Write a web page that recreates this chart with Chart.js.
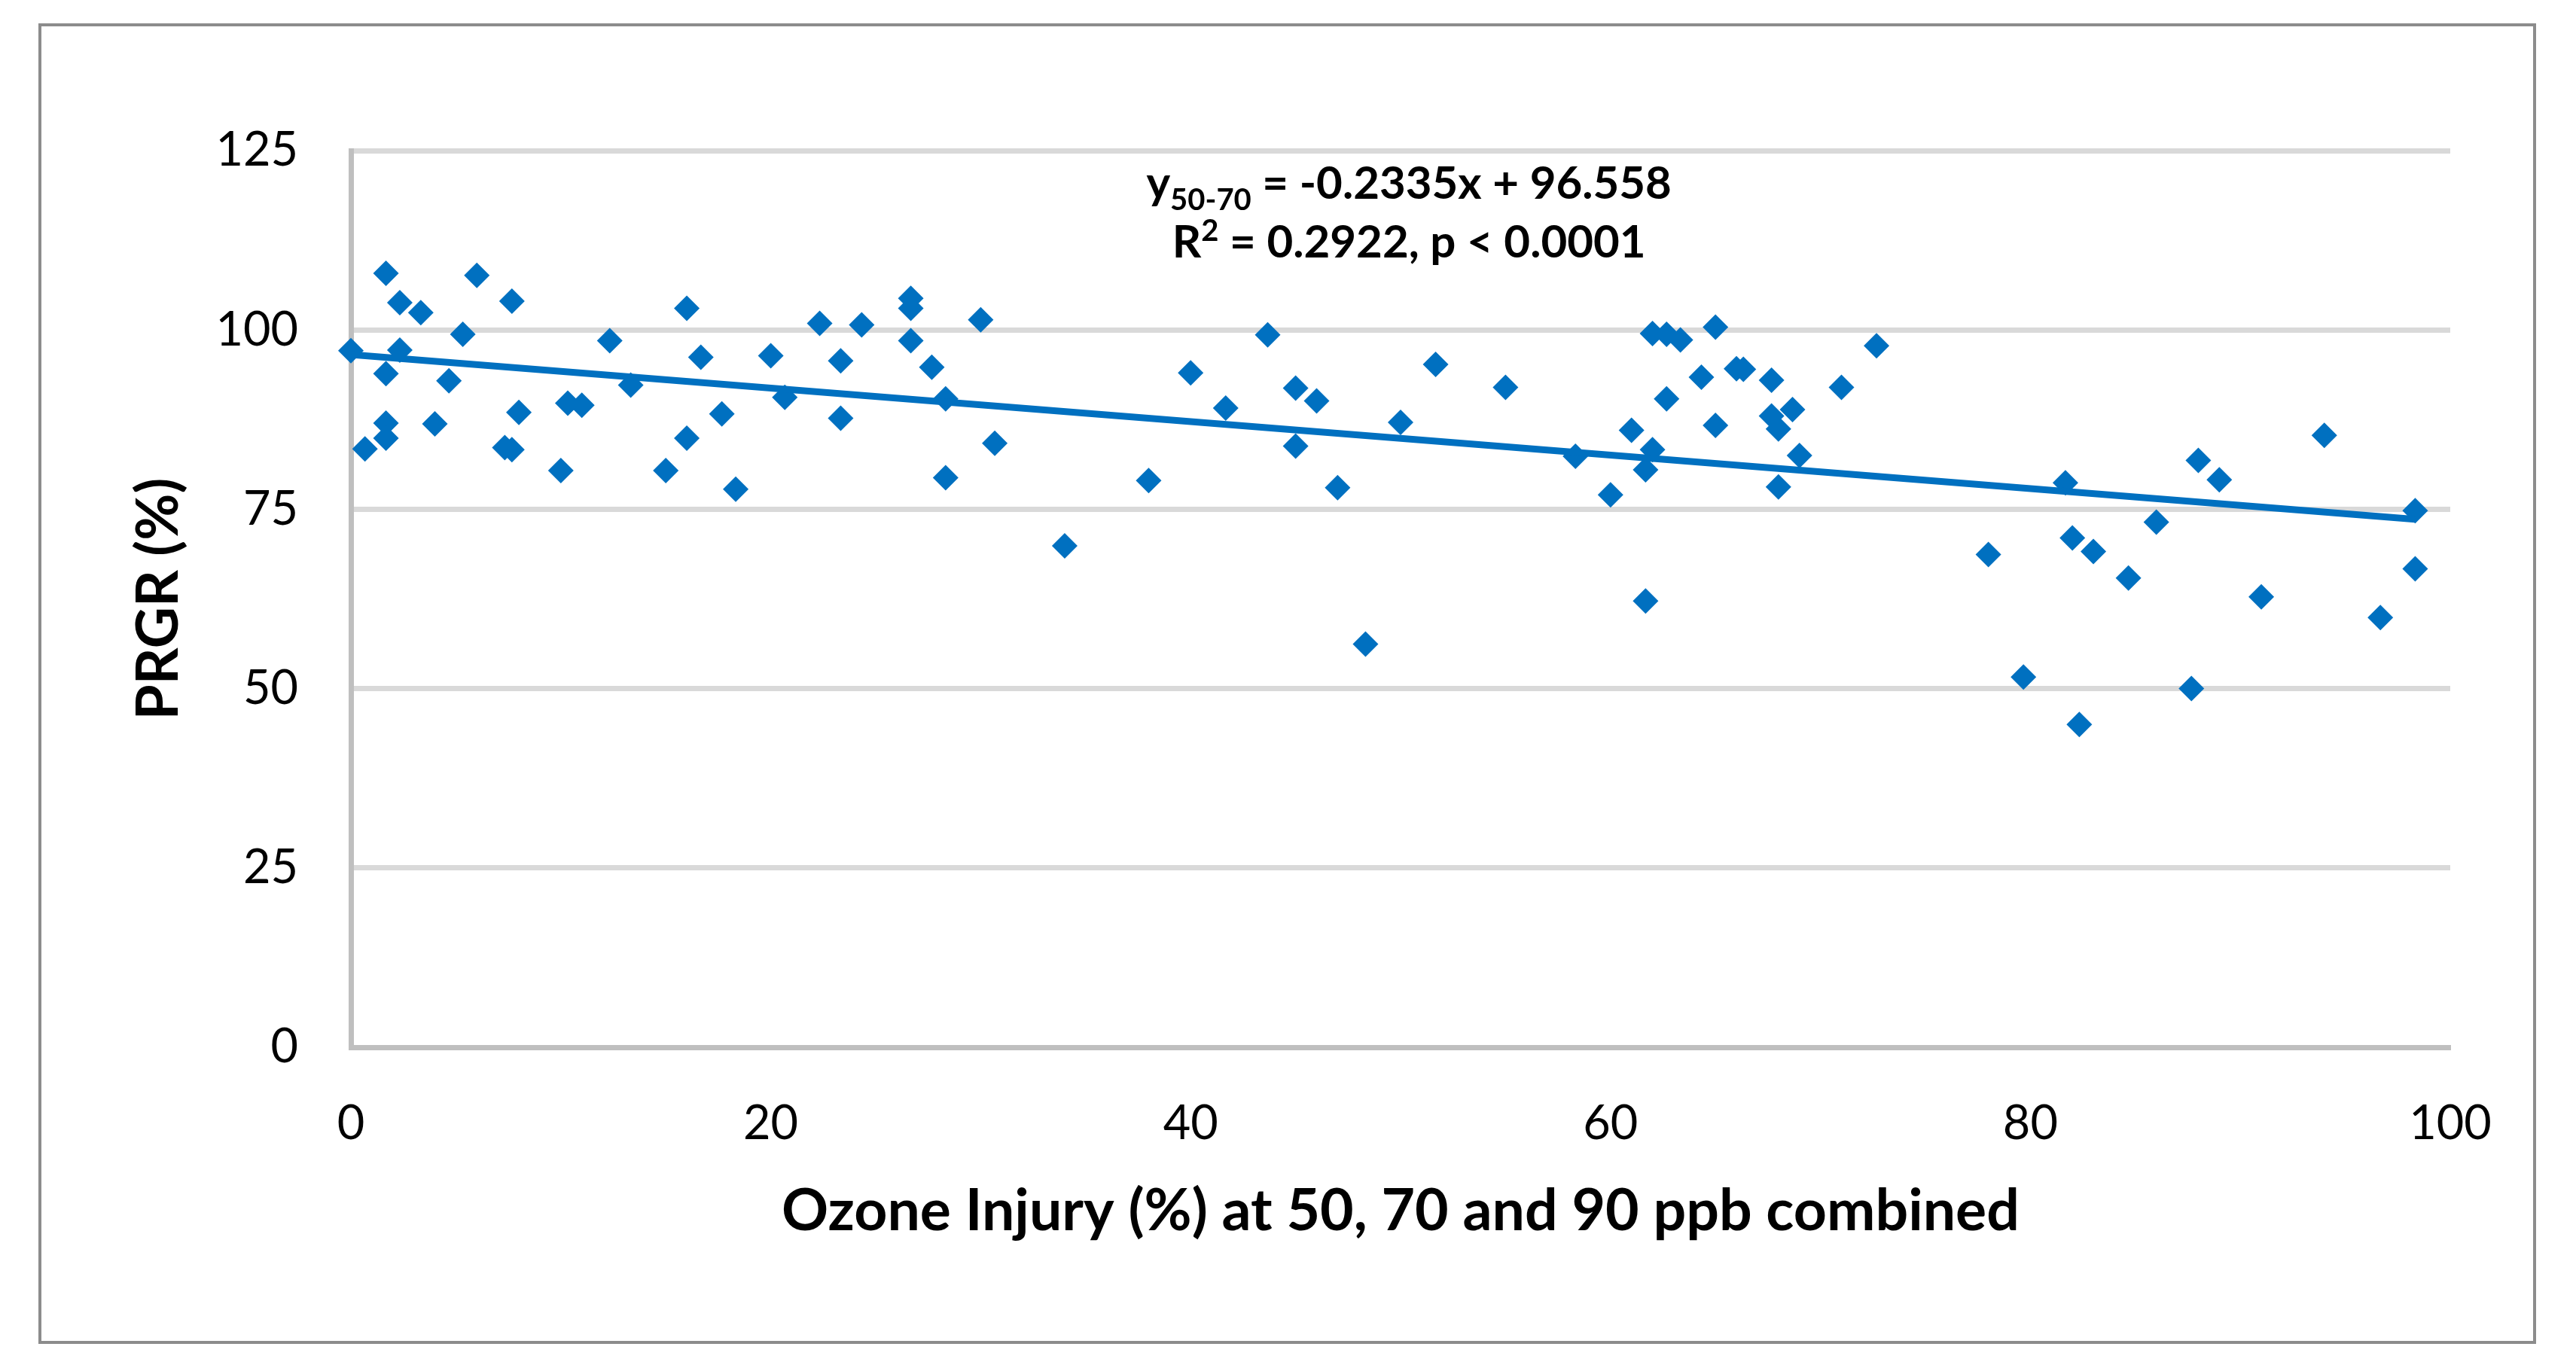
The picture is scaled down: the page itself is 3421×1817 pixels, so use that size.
<!DOCTYPE html>
<html>
<head>
<meta charset="utf-8">
<script src="https://cdn.jsdelivr.net/npm/chart.js@4.4.0/dist/chart.umd.min.js"></script>
<style>
  html, body { margin: 0; padding: 0; background: #fff; }
  canvas { display: block; }
</style>
</head>
<body>
<canvas id="ozoneChart" width="3421" height="1817"></canvas>
<script>
// ozone injury (%) vs PRGR (%)
const injury = [0, 1.67, 2.33, 3.33, 6.0, 7.67, 16.0, 5.33, 12.33, 2.33,
  16.67, 1.67, 4.67, 13.33, 8.0, 10.33, 11.0, 1.67, 4.0, 1.67,
  16.0, 0.67, 7.33, 7.67, 10.0, 15.0, 17.67, 18.33, 20.0, 20.67,
  22.33, 23.33, 23.33, 24.33, 26.67, 26.67, 26.67, 27.67, 28.33, 28.33,
  30.0, 30.67, 34.0, 38.0, 40.0, 41.67, 43.67, 45.0, 46.0, 45.0,
  47.0, 48.33, 50.0, 51.67, 55.0, 58.33, 60.0, 61.0, 62.0, 61.67,
  61.67, 62.0, 62.67, 63.33, 65.0, 62.67, 64.33, 65.0, 66.0, 66.33,
  67.67, 67.67, 68.0, 68.67, 69.0, 68.0, 71.0, 72.67, 81.67, 78.0,
  82.0, 83.0, 84.67, 86.0, 79.67, 82.33, 88.0, 89.0, 94.0, 91.0,
  96.67, 98.33, 98.33, 87.67];
const prgr = [97.1, 107.9, 103.8, 102.4, 107.6, 104.0, 103.0, 99.4, 98.5, 97.2,
  96.2, 93.9, 92.9, 92.3, 88.5, 89.8, 89.5, 87.0, 86.9, 84.9,
  84.9, 83.4, 83.6, 83.3, 80.4, 80.4, 88.3, 77.8, 96.4, 90.6,
  100.9, 95.7, 87.7, 100.7, 104.4, 103.0, 98.5, 94.8, 90.4, 79.4,
  101.4, 84.2, 69.9, 79.0, 94.0, 89.1, 99.3, 91.9, 90.1, 83.8,
  78.0, 56.2, 87.1, 95.2, 92.0, 82.4, 77.0, 86.0, 83.3, 80.5,
  62.2, 99.5, 99.4, 98.6, 100.4, 90.4, 93.4, 86.7, 94.6, 94.5,
  93.0, 88.0, 86.2, 88.9, 82.5, 78.1, 92.0, 97.8, 78.7, 68.7,
  71.0, 69.1, 65.4, 73.2, 51.6, 45.0, 81.8, 79.1, 85.3, 62.8,
  59.9, 66.7, 74.8, 50.0];

// fitted line as printed on the chart
const slope = -0.2335;
const intercept = 96.558;

const xTicks = [0, 20, 40, 60, 80, 100];
const yTicks = [0, 25, 50, 75, 100, 125];

const blue = '#0070C0';

const points = injury.map((x, i) => ({ x: x, y: prgr[i] }));
const xMin = Math.min(...injury);
const xMax = Math.max(...injury);
const trend = [
  { x: xMin, y: slope * xMin + intercept },
  { x: xMax, y: slope * xMax + intercept }
];

const frame = {
  id: 'frame',
  beforeDraw(chart) {
    const c = chart.ctx;
    c.save();
    c.fillStyle = '#fff';
    c.fillRect(0, 0, chart.width, chart.height);
    c.restore();
  },
  afterDraw(chart) {
    const c = chart.ctx;
    c.save();
    c.strokeStyle = '#8c8c8c';
    c.lineWidth = 4;
    c.strokeRect(53, 33, 3313, 1750);
    c.restore();
  }
};

const equation = {
  id: 'equation',
  afterDatasetsDraw(chart) {
    const c = chart.ctx;
    const cx = chart.scales.x.getPixelForValue(50.4);
    const y1 = chart.scales.y.getPixelForValue(118.3);
    const y2 = chart.scales.y.getPixelForValue(110.05);
    const big = 'bold 60px Lato';
    const small = 'bold 40px Lato';
    c.save();
    c.fillStyle = '#000';
    c.textBaseline = 'alphabetic';
    c.textAlign = 'left';

    // line 1: y(50-70) = -0.2335x + 96.558
    const rest = ' = -0.2335x + 96.558';
    c.font = big;
    const wy = c.measureText('y').width;
    const wr = c.measureText(rest).width;
    c.font = small;
    const ws = c.measureText('50-70').width;
    let x = cx - (wy + ws + wr) / 2;
    c.font = big;
    c.fillText('y', x, y1);
    x += wy;
    c.font = small;
    c.fillText('50-70', x, y1 + 15);
    x += ws;
    c.font = big;
    c.fillText(rest, x, y1);

    // line 2: R² = 0.2922, p < 0.0001
    const tail = ' = 0.2922, p < 0.0001';
    c.font = big;
    const wR = c.measureText('R').width;
    const wt = c.measureText(tail).width;
    c.font = small;
    const w2 = c.measureText('2').width;
    x = cx - (wR + w2 + wt) / 2;
    c.font = big;
    c.fillText('R', x, y2);
    x += wR;
    c.font = small;
    c.fillText('2', x, y2 - 22);
    x += w2;
    c.font = big;
    c.fillText(tail, x, y2);
    c.restore();
  }
};

const ctx = document.getElementById('ozoneChart').getContext('2d');

const scatterChart = new Chart(ctx, {
  type: 'scatter',
  data: {
    datasets: [
      {
        label: 'PRGR',
        data: points,
        pointStyle: 'rectRot',
        pointRadius: 17,
        pointHoverRadius: 17,
        backgroundColor: blue,
        borderColor: blue,
        borderWidth: 0,
        clip: false,
        order: 1
      },
      {
        type: 'line',
        label: 'Linear fit',
        data: trend,
        borderColor: blue,
        borderWidth: 9,
        pointRadius: 0,
        fill: false,
        order: 0
      }
    ]
  },
  plugins: [frame, equation],
  options: {
    responsive: false,
    animation: false,
    devicePixelRatio: 1,
    layout: {
      padding: { left: 0, right: 167, top: 200, bottom: 162 }
    },
    plugins: {
      legend: { display: false },
      tooltip: { enabled: false }
    },
    scales: {
      x: {
        type: 'linear',
        min: 0,
        max: 100,
        afterFit: (scale) => { scale.height = 264; },
        afterBuildTicks: (scale) => { scale.ticks = xTicks.map(v => ({ value: v })); },
        grid: { color: 'rgba(0,0,0,0)', drawTicks: false },
        border: { display: true, color: '#bfbfbf', width: 7 },
        ticks: {
          padding: 64,
          color: '#000',
          font: { family: 'Lato', size: 63 }
        },
        title: {
          display: true,
          text: 'Ozone Injury (%) at 50, 70 and 90 ppb combined',
          color: '#000',
          padding: 0,
          font: { family: 'Lato', size: 77, weight: 'bold' }
        }
      },
      y: {
        type: 'linear',
        min: 0,
        max: 125,
        afterFit: (scale) => { scale.width = 466; },
        afterBuildTicks: (scale) => { scale.ticks = yTicks.map(v => ({ value: v })); },
        grid: { color: '#d9d9d9', lineWidth: 7, drawTicks: false },
        border: { display: true, color: '#bfbfbf', width: 7 },
        ticks: {
          padding: 70,
          color: '#000',
          font: { family: 'Lato', size: 63 }
        },
        title: {
          display: true,
          text: 'PRGR (%)',
          color: '#000',
          padding: { top: 166, bottom: 0 },
          font: { family: 'Lato', size: 76, weight: 'bold' }
        }
      }
    }
  }
});
</script>
</body>
</html>
